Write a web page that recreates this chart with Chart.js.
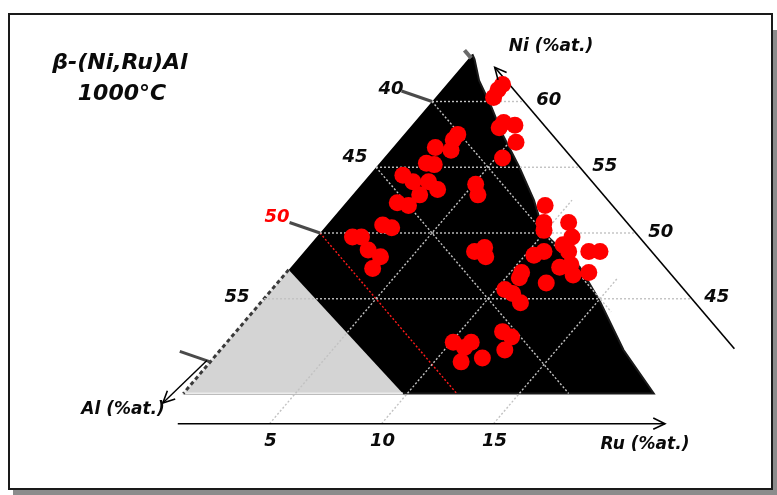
<!DOCTYPE html>
<html>
<head>
<meta charset="utf-8">
<script src="https://cdn.jsdelivr.net/npm/chart.js@4.4.1/dist/chart.umd.min.js"></script>
<style>
  html, body { margin: 0; padding: 0; background: #fff; }
  canvas { display: block; }
</style>
</head>
<body>
<canvas id="ternary" width="777" height="495"></canvas>
<script>
// measured compositions (at.%), Al = 100 - Ni - Ru
const pointNi = [61.3, 60.9, 60.3, 58.4, 58.0, 58.2, 56.9, 55.7, 57.5, 57.1, 56.3, 56.5, 55.3, 55.2,
  54.4, 53.9, 53.9, 53.3, 52.9, 52.3, 52.1, 50.6, 50.4, 49.7, 49.7, 48.7, 48.2, 47.3, 53.7, 52.9,
  48.6, 48.9, 48.2, 52.1, 50.8, 50.2, 50.8, 49.7, 49.1, 48.6, 48.6, 48.6, 48.6, 48.3, 47.4, 47.6,
  46.8, 47.0, 46.2, 47.0, 46.6, 45.7, 45.4, 44.7, 41.7, 41.7, 40.2, 40.5, 42.5, 42.1, 41.1, 41.3];
const pointRu = [2.5, 2.5, 2.6, 4.0, 4.0, 4.6, 5.3, 5.3, 2.4, 2.4, 2.7, 1.9, 2.1, 2.5,
  1.5, 2.2, 2.9, 3.6, 3.0, 2.3, 2.9, 2.5, 3.0, 1.6, 2.0, 2.8, 3.6, 3.7, 5.1, 5.6,
  7.6, 7.9, 8.3, 9.0, 9.6, 9.9, 10.7, 11.4, 11.3, 11.8, 12.7, 13.2, 10.7, 10.4, 12.0, 12.4,
  12.9, 13.5, 12.0, 10.5, 10.6, 10.4, 10.9, 11.6, 10.1, 10.9, 11.2, 12.0, 11.9, 12.5, 12.7, 10.8];

// beta field (black) outline
const betaNi = [63.6, 63.2, 61.6, 59.8, 57.5, 55.0, 52.5, 50.0, 47.4, 44.8, 41.1, 37.8, 37.8];
const betaRu = [0, 0.3, 1.3, 2.7, 4.4, 6.4, 8.3, 10.0, 12.9, 15.1, 18.0, 21.0, 0];

// Al-rich field (grey) outline
const alRichNi = [47.2, 37.8, 37.8];
const alRichRu = [0, 0, 9.8];

// grid
const niTicks = [45, 50, 55, 60];
const ruTicks = [5, 10, 15];
const ruLineTop = [57, 52.5, 46.5];
const alTicks = [40, 45, 50];
const alLineEnd = [44, 37.8, 37.8];
const alLabels = [40, 45, 50, 55];
const edgeTicks = [60, 50, 40.2];

const baseNi = 37.8;
const ruAxisNi = 35.5;
const niAxisAl = 35.9;

const tern = (ni, ru) => ({ x: ru + ni / 2, y: ni });

function line(pts, color, width, dash, order) {
  return {
    type: 'line', data: pts, borderColor: color, borderWidth: width,
    borderDash: dash || [], pointRadius: 0, fill: false, tension: 0, order: order
  };
}

const datasets = [];

datasets.push({
  type: 'scatter',
  data: pointNi.map((n, i) => tern(n, pointRu[i])),
  backgroundColor: '#ff0000', borderWidth: 0, pointRadius: 8.5, pointHoverRadius: 8.5, order: 0
});

// axes with arrows
datasets.push(line([tern(62.6, 100 - niAxisAl - 62.6), tern(41.2, 100 - niAxisAl - 41.2)], '#000', 1.6, [], 1));
datasets.push(line([tern(ruAxisNi, 0.9), tern(ruAxisNi, 22.65)], '#000', 1.6, [], 1));
datasets.push(line([tern(40.3, -0.2), tern(37.07, -0.55)], '#000', 1.4, [], 1));

// ticks on the Ni-Al edge
edgeTicks.forEach(n => {
  datasets.push(line([tern(n, 0), tern(n + 0.8, -1.76)], '#4a4a4a', 3, [], 2));
});
datasets.push(line([tern(63.3, 0.1), tern(63.9, -0.5)], '#6a6a6a', 4, [], 2));

// iso-Ni lines
niTicks.forEach(n => {
  datasets.push(line([tern(n, 0), tern(n, 100 - niAxisAl - n)], '#c2c2c2', 1.4, [2, 2], 3));
});
// iso-Ru lines
ruTicks.forEach((r, i) => {
  datasets.push(line([tern(ruAxisNi, r), tern(ruLineTop[i], r)], '#c2c2c2', 1.4, [2, 2], 3));
});
// iso-Al lines
alTicks.forEach((a, i) => {
  datasets.push(line([tern(100 - a, 0), tern(alLineEnd[i], 100 - a - alLineEnd[i])],
    a === 50 ? '#ff1a1a' : '#c2c2c2', 1.4, [2, 2], 3));
});

// grey field edge
datasets.push(line([tern(alRichNi[0], 0), tern(alRichNi[1], 0)], '#3a3a3a', 3, [4, 3], 4));
datasets.push({
  type: 'line',
  data: alRichNi.map((n, i) => tern(n, alRichRu[i])),
  borderColor: '#ececec', borderWidth: 2, backgroundColor: '#d4d4d4',
  fill: 'shape', pointRadius: 0, tension: 0, order: 5
});

datasets.push({
  type: 'line',
  data: betaNi.map((n, i) => tern(n, betaRu[i])),
  borderColor: '#1a1a1a', borderWidth: 2, backgroundColor: '#000',
  fill: 'shape', pointRadius: 0, tension: 0, order: 6
});

const P = (chart, ni, ru) => ({
  x: chart.scales.x.getPixelForValue(ru + ni / 2),
  y: chart.scales.y.getPixelForValue(ni)
});

function arrowHead(ctx, from, to) {
  const a = Math.atan2(to.y - from.y, to.x - from.x);
  const len = 13, spread = 0.45;
  ctx.beginPath();
  ctx.moveTo(to.x - len * Math.cos(a - spread), to.y - len * Math.sin(a - spread));
  ctx.lineTo(to.x, to.y);
  ctx.lineTo(to.x - len * Math.cos(a + spread), to.y - len * Math.sin(a + spread));
  ctx.stroke();
}

const decor = {
  id: 'decor',
  beforeDraw(chart) {
    const ctx = chart.ctx;
    ctx.save();
    ctx.fillStyle = '#fff';
    ctx.fillRect(0, 0, chart.width, chart.height);
    ctx.fillStyle = '#8c8c8c';
    ctx.fillRect(13, 490, 764, 5);
    ctx.fillRect(773, 30, 4, 465);
    ctx.strokeStyle = '#1a1a1a';
    ctx.lineWidth = 2;
    ctx.strokeRect(9, 14, 763, 475);
    ctx.restore();
  },
  afterDatasetsDraw(chart) {
    const ctx = chart.ctx;
    ctx.save();
    ctx.strokeStyle = '#000';
    ctx.lineWidth = 1.6;
    arrowHead(ctx, P(chart, 41.2, 100 - niAxisAl - 41.2), P(chart, 62.6, 100 - niAxisAl - 62.6));
    arrowHead(ctx, P(chart, ruAxisNi, 0.9), P(chart, ruAxisNi, 22.65));
    arrowHead(ctx, P(chart, 40.3, -0.2), P(chart, 37.07, -0.55));

    ctx.textAlign = 'center';
    ctx.textBaseline = 'middle';
    ctx.fillStyle = '#0a0a0a';
    ctx.font = 'italic bold 22px "DejaVu Sans"';
    ctx.fillText('\u03B2-(Ni,Ru)Al', 120, 63);
    ctx.fillText('1000\u00B0C', 122, 94);

    ctx.font = 'italic bold 17px "DejaVu Sans"';
    ctx.fillText('Ni (%at.)', 551, 47);
    ctx.fillText('Al (%at.)', 123, 410);
    ctx.fillText('Ru (%at.)', 645, 445);

    ctx.font = 'italic bold 18px "DejaVu Sans"';
    // Al labels along the Ni-Al edge
    const alOff = [[-41, -12], [-21, -10], [-43, -16], [-27, -1]];
    alLabels.forEach((a, i) => {
      const p = P(chart, 100 - a, 0);
      ctx.fillStyle = a === 50 ? '#ff0000' : '#0a0a0a';
      ctx.fillText(String(a), p.x + alOff[i][0], p.y + alOff[i][1]);
    });
    ctx.fillStyle = '#0a0a0a';
    niTicks.forEach(n => {
      const p = P(chart, n, 100 - niAxisAl - n);
      ctx.fillText(String(n), p.x + 25, p.y - 1);
    });
    ruTicks.forEach(r => {
      const p = P(chart, ruAxisNi, r);
      ctx.fillText(String(r), p.x + 1, p.y + 18);
    });
    ctx.restore();
  }
};

new Chart(document.getElementById('ternary'), {
  type: 'scatter',
  data: { datasets },
  options: {
    responsive: false,
    devicePixelRatio: 1,
    animation: false,
    events: [],
    layout: { padding: 0, autoPadding: false },
    plugins: { legend: { display: false }, tooltip: { enabled: false } },
    scales: {
      x: { type: 'linear', display: false, min: 10.714, max: 45.402 },
      y: { type: 'linear', display: false, min: 30.076, max: 67.719 }
    }
  },
  plugins: [decor]
});
</script>
</body>
</html>
